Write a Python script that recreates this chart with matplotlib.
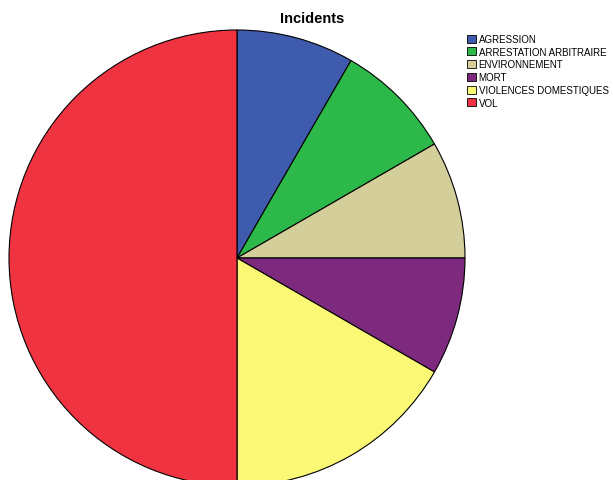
import matplotlib
matplotlib.use("Agg")
import matplotlib.pyplot as plt
from matplotlib.patches import Patch

categories = ["AGRESSION", "ARRESTATION ARBITRAIRE", "ENVIRONNEMENT", "MORT",
              "VIOLENCES DOMESTIQUES", "VOL"]
values = [1, 1, 1, 1, 2, 6]
colors = ["#3F5BAD", "#2DB84A", "#D4CE9A", "#7D2A7E", "#FAF874", "#EF3340"]

plt.rcParams['font.family'] = ['Liberation Sans', 'DejaVu Sans']

fig = plt.figure(figsize=(6.13, 4.81), dpi=100)
ax = fig.add_axes([9/613, -6/481, 456/613, 456/481])
ax.pie(values, colors=colors, startangle=90, counterclock=False,
       wedgeprops=dict(edgecolor="black", linewidth=0.8))
ax.set_xlim(-1, 1)
ax.set_ylim(-1, 1)
ax.set_aspect('equal')
ax.axis('off')

fig.text(312/613, 1 - 19/481, "Incidents", ha="center", va="center",
         fontsize=10.5, fontweight="bold")

handles = [Patch(facecolor=c, edgecolor="black", linewidth=0.6) for c in colors]
fig.legend(handles, categories, loc="upper left",
           bbox_to_anchor=(467/613, 1 - 35/481), frameon=False,
           fontsize=7, handlelength=0.9, handleheight=0.9,
           handletextpad=0.3, labelspacing=0.28, borderpad=0, borderaxespad=0)

fig.savefig("out.png", dpi=100)
